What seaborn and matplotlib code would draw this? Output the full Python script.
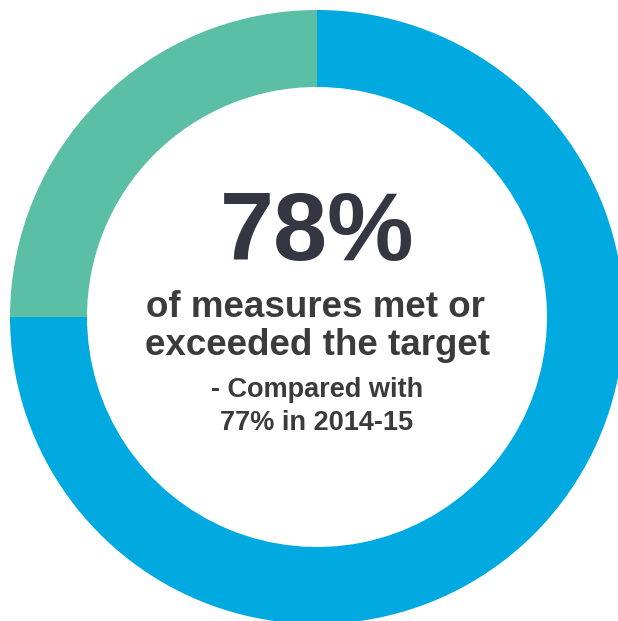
import matplotlib
matplotlib.use("Agg")
import matplotlib.pyplot as plt
import seaborn as sns

sns.set_theme(style="white")
plt.rcParams['font.family'] = ['Liberation Sans', 'DejaVu Sans']

segments = ["Met or exceeded", "Other"]
values = [75, 25]
colors = ["#00A9E0", "#5BBFA6"]

headline = "78%"
lines = ["of measures met or", "exceeded the target"]
sub_lines = ["- Compared with", "77% in 2014-15"]

fig = plt.figure(figsize=(6.18, 6.21), dpi=100)
ax = fig.add_axes([0, 0, 1, 1])
ax.pie(values, colors=colors, startangle=90, counterclock=False,
       radius=307, center=(0, 0),
       wedgeprops=dict(width=77, linewidth=0))
ax.set_xlim(-317, 301)
ax.set_ylim(-304, 317)
ax.set_aspect('equal')
ax.axis('off')

ax.text(0, 57, headline, ha='center', va='baseline', fontsize=70,
        fontweight='bold', color='#343641')
ax.text(-2, 0, lines[0], ha='center', va='baseline', fontsize=26.5,
        fontweight='bold', color='#3b3b3b')
ax.text(0, -38, lines[1], ha='center', va='baseline', fontsize=26.5,
        fontweight='bold', color='#3b3b3b')
ax.text(0, -80, sub_lines[0], ha='center', va='baseline', fontsize=19.5,
        fontweight='bold', color='#3b3b3b')
ax.text(0, -113, sub_lines[1], ha='center', va='baseline', fontsize=19.5,
        fontweight='bold', color='#3b3b3b')

fig.savefig("out.png", dpi=100)
